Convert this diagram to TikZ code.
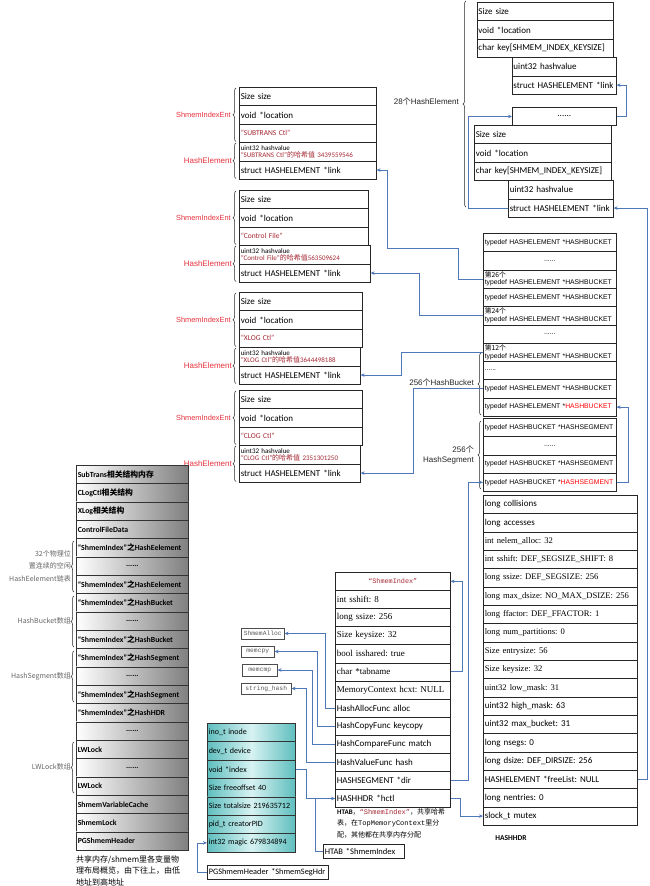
\documentclass[tikz,border=0pt]{standalone}
\usepackage{fontspec}
\setmainfont{Carlito}
\newfontfamily\tms{Liberation Serif}
\newfontfamily\arl{Liberation Sans}
\newfontfamily\cjk{Noto Sans CJK SC}
\newfontfamily\mon{Liberation Mono}
\usetikzlibrary{arrows.meta,decorations.pathreplacing}
\definecolor{conn}{RGB}{79,120,185}
\definecolor{lblred}{RGB}{230,50,60}
\definecolor{keyred}{RGB}{165,40,50}
\definecolor{cyedge}{RGB}{95,190,190}
\definecolor{cymid}{RGB}{215,242,242}
\newcommand\zh[1]{{\cjk #1}}
\newcommand\dts{.\kern0pt.\kern0pt.\kern0pt.\kern0pt.\kern0pt.}
\newcommand\cdts{\hbox to\hsize{\hss\dts\hss}}
\newcommand\elemgrp[6]{%
 \node[cell, text width=#3pt] (#1a) at (239,#2) {Size size};
 \node[cell, text width=#3pt] (#1b) at (239,#2+18.4) {void *location};
 \node[cell, text width=#3pt, font=\fontsize{7.5}{9}\selectfont, text=keyred] (#1c) at (239,#2+36.8) {#5};
 \node[cell, text width=#4pt, font=\fontsize{7}{7.6}\selectfont] (#1d) at (239,#2+55.2) {uint32 hashvalue\\\textcolor{keyred}{#6}};
 \node[cell, text width=#4pt] (#1e) at (239,#2+73.6) {struct HASHELEMENT *link};
 \node[redlbl, anchor=east, font=\arl\fontsize{7.4}{9}\selectfont] (#1l) at (231,#2+27.6) {ShmemIndexEnt};
 \node[redlbl, anchor=east] (#1m) at (232,#2+73.6) {HashElement};
 \draw[brc] (236,#2+54.5) -- (236,#2+1);
 \draw[brc] (236,#2+91.5) -- (236,#2+56);
}
\tikzset{
 cell/.style={draw=black!85, line width=0.55pt, anchor=north west, inner xsep=1.5pt, inner ysep=0pt,
   align=left, fill=white, minimum height=18.4pt, font=\fontsize{9}{10.5}\selectfont},
 bcell/.style={cell, text width=130pt, minimum height=18.3pt, font=\arl\fontsize{6.8}{7.6}\selectfont},
 gcell/.style={draw=black!80, line width=0.55pt, anchor=north west, inner xsep=1.5pt, inner ysep=0pt,
   align=left, left color=white, right color=black!50, text width=109pt, minimum height=18.33pt,
   font=\bfseries\fontsize{7.8}{9}\selectfont},
 ccell/.style={draw=black!80, line width=0.55pt, anchor=north west, inner xsep=1.5pt, inner ysep=0pt,
   align=left, left color=cyedge, right color=cyedge, middle color=cymid, text width=85pt,
   minimum height=18.4pt, font=\fontsize{8}{9}\selectfont},
 fbox/.style={draw=black!70, line width=0.5pt, anchor=north west, inner xsep=1.5pt, inner ysep=0pt,
   minimum height=11.5pt, font=\mon\fontsize{6.3}{7}\selectfont, text=black!65},
 redlbl/.style={text=lblred, inner sep=0pt, font=\arl\fontsize{8}{9}\selectfont},
 glbl/.style={text=black!60, inner sep=0pt, align=right, font=\cjk\fontsize{7}{12.5}\selectfont},
 blbl/.style={inner sep=0pt, align=right, font=\arl\fontsize{8}{10}\selectfont, text=black!85},
 arr/.style={draw=conn, line width=0.7pt, -{Stealth[length=4pt,width=3.5pt]}},
 wire/.style={draw=conn, line width=0.7pt},
 brc/.style={decorate, decoration={brace, amplitude=3pt}, line width=0.5pt, draw=black!85},
}
\begin{document}
\frenchspacing
\begin{tikzpicture}[x=1pt,y=-1pt]
\useasboundingbox (0,0) rectangle (650,886);
\fill[white] (0,0) rectangle (650,886);

% ---------- top-right free hash elements ----------
\node[cell, text width=133.6pt] (et1a) at (476.7,2) {Size size};
\node[cell, text width=133.6pt] (et1b) at (476.7,20.4) {void *location};
\node[cell, text width=133.6pt] (et1c) at (476.7,38.8) {char key[SHMEM\_INDEX\_KEYSIZE]};
\node[cell, text width=101.3pt] (et1d) at (511.7,57.2) {uint32 hashvalue};
\node[cell, text width=101.3pt] (et1e) at (511.7,75.6) {struct HASHELEMENT *link};
\node[cell, text width=101pt] (edots) at (512,107) {\cdts};
\node[cell, text width=134pt] (et2a) at (474,125) {Size size};
\node[cell, text width=134pt] (et2b) at (474,143.4) {void *location};
\node[cell, text width=134pt] (et2c) at (474,161.8) {char key[SHMEM\_INDEX\_KEYSIZE]};
\node[cell, text width=102pt] (et2d) at (508,180.2) {uint32 hashvalue};
\node[cell, text width=102pt] (et2e) at (508,198.6) {struct HASHELEMENT *link};
\draw[brc] (466,207) -- (466,1);
\node[blbl, anchor=east] (l28) at (459,101) {28\zh{个}HashElement};

% ---------- used hash elements ----------
\elemgrp{ga}{87}{134}{134}{“SUBTRANS Ctl”}{“SUBTRANS Ctl”\zh{的哈希值} 3439559546}
\elemgrp{gb}{190}{126}{128}{“Control File”}{“Control File”\zh{的哈希值}563509624}
\elemgrp{gc}{292}{120}{118}{“XLOG Ctl”}{“XLOG Ctl”\zh{的哈希值}3644498188}
\elemgrp{gd}{390}{120}{118}{“CLOG Ctl”}{“CLOG Ctl”\zh{的哈希值} 2351301250}

% ---------- bucket array ----------
\foreach \txt [count=\i from 0] in {
 {typedef HASHELEMENT *HASHBUCKET},
 {\cdts},
 {\zh{第26个}\\typedef HASHELEMENT *HASHBUCKET},
 {typedef HASHELEMENT *HASHBUCKET},
 {\zh{第24个}\\typedef HASHELEMENT *HASHBUCKET},
 {\cdts},
 {\zh{第12个}\\typedef HASHELEMENT *HASHBUCKET},
 {\dts},
 {typedef HASHELEMENT *HASHBUCKET},
 {typedef HASHELEMENT *\textcolor{red}{HASHBUCKET}}}
 \node[bcell] (bk\i) at (483,{233+18.3*\i}) {\txt};
\foreach \txt [count=\i from 0] in {
 {typedef HASHBUCKET *HASHSEGMENT},
 {\cdts},
 {typedef HASHBUCKET *HASHSEGMENT},
 {typedef HASHBUCKET *\textcolor{red}{HASHSEGMENT}}}
 \node[bcell] (sg\i) at (483,{418+18.3*\i}) {\txt};
\draw[brc] (481,415) -- (481,353);
\node[blbl, anchor=east] (lbk) at (474,382) {256\zh{个}HashBucket};
\draw[brc] (481,489) -- (481,421);
\node[blbl, anchor=east] (lsg) at (474,455) {256\zh{个}\\HashSegment};

% ---------- HASHHDR ----------
\foreach \txt [count=\i from 0] in {
 {long collisions},
 {long accesses},
 {\tms\fontsize{8.6}{10}\selectfont int nelem\_alloc: 32},
 {\tms\fontsize{8.6}{10}\selectfont int sshift: DEF\_SEGSIZE\_SHIFT: 8},
 {\tms\fontsize{8.6}{10}\selectfont long ssize: DEF\_SEGSIZE: 256},
 {\tms\fontsize{8.6}{10}\selectfont long max\_dsize: NO\_MAX\_DSIZE: 256},
 {\tms\fontsize{8.6}{10}\selectfont long ffactor: DEF\_FFACTOR: 1},
 {\tms\fontsize{8.6}{10}\selectfont long num\_partitions: 0},
 {\tms\fontsize{8.6}{10}\selectfont Size entrysize: 56},
 {\tms\fontsize{8.6}{10}\selectfont Size keysize: 32},
 {\tms\fontsize{8.6}{10}\selectfont uint32 low\_mask: 31},
 {uint32 high\_mask: 63},
 {uint32 max\_bucket: 31},
 {long nsegs: 0},
 {long dsize: DEF\_DIRSIZE: 256},
 {HASHELEMENT *freeList: NULL},
 {long nentries: 0},
 {slock\_t mutex}}
 \node[cell, text width=151pt, minimum height=18.33pt] (hh\i) at (483,{495+18.33*\i}) {\txt};
\node[inner sep=0pt, font=\bfseries\fontsize{7.5}{9}\selectfont] (hhlbl) at (511,838) {HASHHDR};

% ---------- HTAB ----------
\foreach \txt [count=\i from 0] in {
 {\hbox to\hsize{\hss\textcolor{keyred}{\mon\fontsize{6.8}{8}\selectfont “ShmemIndex”}\hss}},
 {\tms int sshift: 8},
 {\tms long ssize: 256},
 {\tms Size keysize: 32},
 {\tms bool isshared: true},
 {\tms char *tabname},
 {\tms MemoryContext hcxt: NULL},
 {HashAllocFunc alloc},
 {HashCopyFunc keycopy},
 {HashCompareFunc match},
 {HashValueFunc hash},
 {HASHSEGMENT *dir},
 {HASHHDR *hctl}}
 \node[cell, text width=112pt, minimum height=18.1pt] (ht\i) at (335,{572+18.1*\i}) {\txt};
\node[anchor=north west, inner sep=0pt, align=left, font=\fontsize{7}{11.5}\selectfont] (htcap) at (337,808)
 {\textbf{HTAB}\zh{，}\textcolor{keyred}{\mon “ShmemIndex”}\zh{，共享哈希}\\
  \zh{表，在}{\mon TopMemoryContext}\zh{里分}\\
  \zh{配，其他都在共享内存分配}};
\node[cell, text width=78pt, minimum height=14pt, font=\fontsize{8.5}{10}\selectfont] (htabvar) at (323,844) {HTAB *ShmemIndex};

% ---------- function boxes ----------
\node[fbox, minimum width=43pt] (fAlloc) at (241,627.5) {ShmemAlloc};
\node[fbox, minimum width=33pt] (fCpy) at (241,645.5) {memcpy};
\node[fbox, minimum width=35pt] (fCmp) at (242,664) {memcmp};
\node[fbox, minimum width=50pt] (fHash) at (241,682.5) {string\_hash};

% ---------- PGShmemHeader ----------
\foreach \txt [count=\i from 0] in {
 {ino\_t inode}, {dev\_t device}, {void *index}, {Size freeoffset 40},
 {Size totalsize 219635712}, {pid\_t creatorPID}, {int32 magic 679834894}}
 \node[ccell] (cy\i) at (207,{723+18.4*\i}) {\txt};
\node[cell, text width=118pt, minimum height=14pt, font=\fontsize{8.3}{10}\selectfont] (seghdr) at (207,865) {PGShmemHeader *ShmemSegHdr};

% ---------- shared memory layout ----------
\foreach \txt [count=\i from 0] in {
 {SubTrans\zh{相关结构内存}},
 {CLogCtl\zh{相关结构}},
 {XLog\zh{相关结构}},
 {ControlFileData},
 {“ShmemIndex”\zh{之}HashEelement},
 {\cdts},
 {“ShmemIndex”\zh{之}HashEelement},
 {“ShmemIndex”\zh{之}HashBucket},
 {\cdts},
 {“ShmemIndex”\zh{之}HashBucket},
 {“ShmemIndex”\zh{之}HashSegment},
 {\cdts},
 {“ShmemIndex”\zh{之}HashSegment},
 {“ShmemIndex”\zh{之}HashHDR},
 {\cdts},
 {LWLock},
 {\cdts},
 {LWLock},
 {ShmemVariableCache},
 {ShmemLock},
 {PGShmemHeader}}
 \node[gcell] (lc\i) at (76,{465+18.33*\i}) {\txt};
\draw[brc] (74,592) -- (74,541);
\node[glbl, anchor=east] (lab1) at (71,566) {32个物理位\\置连续的空闲\\HashEelement链表};
\draw[brc] (74,647) -- (74,596);
\node[glbl, anchor=east] (lab2) at (71,621) {HashBucket数组};
\draw[brc] (74,702) -- (74,651);
\node[glbl, anchor=east] (lab3) at (71,676) {HashSegment数组};
\draw[brc] (74,793) -- (74,742);
\node[glbl, anchor=east] (lab4) at (71,767) {LWLock数组};
\node[anchor=north west, inner sep=0pt, align=left, font=\cjk\fontsize{8}{11.5}\selectfont] (cap) at (76,855)
 {共享内存/shmem里各变量物\\理布局概览，由下往上，由低\\地址到高地址};

% ---------- connectors ----------
\draw[arr] (hh15.east) -- ++(10,0) |- (et2e.east);
\draw[arr] (edots.east) -- ++(10,0) |- (et1e.east);
\draw[arr] (et2e.west) -- ++(-40,0) |- (edots.west);
\draw[arr] (bk2.west) -| (458,248) -- (387,248) |- (gae.east);
\draw[arr] (bk4.west) -- ++(-64,0) |- (gbe.east);
\draw[arr] (bk6.west) -- ++(-82,0) |- (gce.east);
\draw[arr] (bk8.west) -- ++(-70,0) |- (gde.east);
\draw[arr] (sg3.east) -- ++(12,0) |- (bk9.east);
\draw[arr] (ht11.east) -- ++(18,0) |- (sg3.west);
\draw[arr] (ht5.east) -- ++(12,0) |- (ht0.east);
\draw[arr] (ht12.east) -- ++(10,0) |- (hh17.west);
\draw[arr] (ht7.west) -- ++(-10,0) |- (fAlloc.east);
\draw[arr] (ht8.west) -- ++(-18,0) |- (fCpy.east);
\draw[arr] (ht9.west) -- ++(-23,0) |- (fCmp.east);
\draw[arr] (ht10.west) -- ++(-29,0) |- (fHash.east);
\draw[arr] (cy2.east) -- ++(11,0) |- (ht12.west);
\draw[wire] (htabvar.west) -- ++(-8,0) |- (ht12.west);
\draw[arr] (seghdr.west) -- ++(-10,0) |- (cy6.west);
\end{tikzpicture}
\end{document}
